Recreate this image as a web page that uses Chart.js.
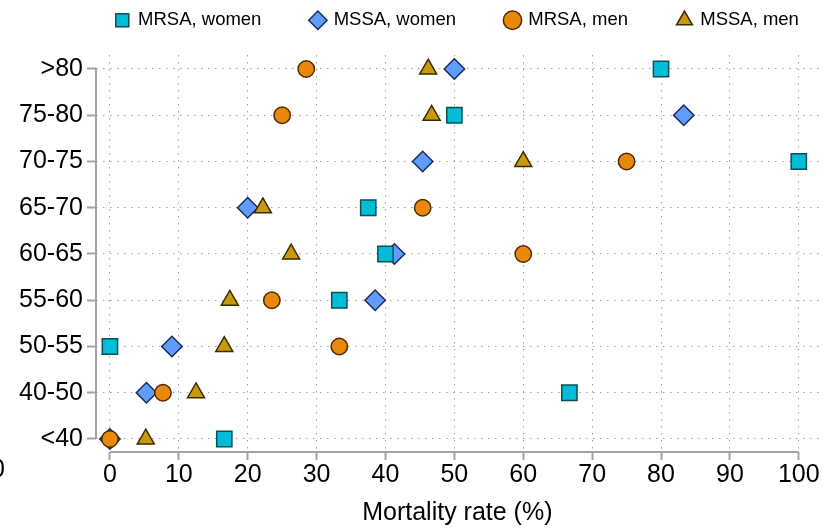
<!DOCTYPE html>
<html>
<head>
<meta charset="utf-8">
<script src="https://cdn.jsdelivr.net/npm/chart.js@4"></script>
<style>
  body { margin: 0; background: #fff; }
  #wrap { width: 831px; height: 528px; position: relative; }
</style>
</head>
<body>
<div id="wrap"><canvas id="myChart"></canvas></div>
<script>
// age groups, bottom to top
const categories = ['<40', '40-50', '50-55', '55-60', '60-65', '65-70', '70-75', '75-80', '>80']
const x_ticks = [0, 10, 20, 30, 40, 50, 60, 70, 80, 90, 100]

// mortality rate (%) per age group
const mrsa_women = [16.6, 66.7, 0, 33.3, 40, 37.5, 100, 50, 80]
const mssa_women = [0, 5.3, 9.0, 38.5, 41.3, 20, 45.4, 83.3, 50]
const mrsa_men = [0, 7.7, 33.3, 23.5, 60, 45.4, 75, 25, 28.5]
const mssa_men = [5.2, 12.5, 16.6, 17.4, 26.3, 22.2, 60, 46.7, 46.2]

const FONT = 'Liberation Sans, Arial, Helvetica, sans-serif'
const AXIS_GRAY = '#a3a3a3'
const LEGEND_PAD = 50

function to_points(values) {
    return values.map((v, i) => ({x: v, y: i}))
}

function make_set(label, values, style, radius, fill, border, order) {
    return {
        label: label,
        data: to_points(values),
        pointStyle: style,
        pointRadius: radius,
        pointHoverRadius: radius,
        backgroundColor: fill,
        borderColor: border,
        pointBorderWidth: 1.5,
        borderWidth: 1.5,
        order: order
    }
}

// draws the axis lines only over the data range, plus the clipped "0" at the left edge
const axis_lines = {
    id: 'axis_lines',
    beforeDatasetsDraw(chart) {
        const ctx = chart.ctx
        const x = chart.scales.x
        const y = chart.scales.y
        ctx.save()
        ctx.strokeStyle = AXIS_GRAY
        ctx.lineWidth = 2
        ctx.beginPath()
        ctx.moveTo(x.getPixelForValue(0), chart.chartArea.bottom)
        ctx.lineTo(x.getPixelForValue(100), chart.chartArea.bottom)
        ctx.moveTo(chart.chartArea.left, y.getPixelForValue(0))
        ctx.lineTo(chart.chartArea.left, y.getPixelForValue(categories.length - 1))
        ctx.stroke()
        ctx.restore()
    },
    afterDraw(chart) {
        const ctx = chart.ctx
        ctx.save()
        ctx.fillStyle = '#000'
        ctx.font = '25px ' + FONT
        ctx.textAlign = 'center'
        ctx.textBaseline = 'middle'
        ctx.fillText('0', chart.chartArea.left - 98, chart.chartArea.bottom + 18)
        ctx.restore()
    }
}

// legend: one row with wide gaps, sitting close to the top
const legend_fit = {
    id: 'legend_fit',
    beforeInit(chart) {
        const legend = chart.legend
        const fit = legend.fit
        legend.fit = function() {
            const w = this.maxWidth
            this.maxWidth = 2000
            fit.call(this)
            this.maxWidth = w
            this.width = w
            this.height = 94
        }
        const draw = legend.draw
        legend.draw = function() {
            const l = this.left
            const r = this.right
            this.left = l - 200
            this.right = r + 200
            draw.call(this)
            this.left = l
            this.right = r
        }
    }
}

const data = {
    datasets: [
        make_set('MRSA, women', mrsa_women, 'rect', 10.8, '#00bcd6', '#0b4f5a', 0),
        make_set('MSSA, women', mssa_women, 'rectRot', 10.2, '#609cff', '#1b2b52', 3),
        make_set('MRSA, men', mrsa_men, 'circle', 8.2, '#e8890c', '#4d2a00', 1),
        make_set('MSSA, men', mssa_men, 'triangle', 9.8, '#c89a0a', '#3a2a00', 2)
    ]
}

const config = {
    type: 'scatter',
    data: data,
    options: {
        responsive: true,
        maintainAspectRatio: false,
        animation: false,
        layout: { padding: { top: -39, left: 0, right: 9, bottom: 0 } },
        plugins: {
            tooltip: { enabled: false },
            legend: {
                position: 'top',
                fullSize: false,
                labels: {
                    usePointStyle: true,
                    boxWidth: 13,
                    boxHeight: 13,
                    padding: LEGEND_PAD,
                    color: '#000',
                    font: { family: FONT, size: 18.5 },
                    sort: (a, b) => a.datasetIndex - b.datasetIndex
                }
            }
        },
        scales: {
            x: {
                type: 'linear',
                min: -2.023,
                max: 102.89,
                afterBuildTicks: scale => { scale.ticks = x_ticks.map(v => ({value: v})) },
                afterFit: scale => { scale.height = 76 },
                border: { display: false, dash: [1.5, 5.5] },
                grid: {
                    color: '#a0a0a0',
                    lineWidth: 1,
                    drawTicks: true,
                    tickLength: 8,
                    tickColor: AXIS_GRAY,
                    tickWidth: 2
                },
                ticks: {
                    color: '#000',
                    padding: 0,
                    maxRotation: 0,
                    font: { family: FONT, size: 25 }
                },
                title: {
                    display: true,
                    text: 'Mortality rate (%)',
                    color: '#000',
                    padding: { top: 0, bottom: 0 },
                    font: { family: FONT, size: 25 }
                }
            },
            y: {
                type: 'linear',
                min: -0.2811,
                max: 8.3027,
                afterBuildTicks: scale => { scale.ticks = categories.map((c, i) => ({value: i})) },
                afterFit: scale => { scale.width = 96 },
                border: { display: false, dash: [1.5, 5.5] },
                grid: {
                    color: '#a0a0a0',
                    lineWidth: 1,
                    drawTicks: true,
                    tickLength: 9,
                    tickColor: AXIS_GRAY,
                    tickWidth: 2
                },
                ticks: {
                    color: '#000',
                    padding: 4,
                    font: { family: FONT, size: 25 },
                    callback: value => categories[value]
                }
            }
        }
    },
    plugins: [axis_lines, legend_fit]
}

let myChart = new Chart(document.getElementById('myChart'), config)
</script>
</body>
</html>
